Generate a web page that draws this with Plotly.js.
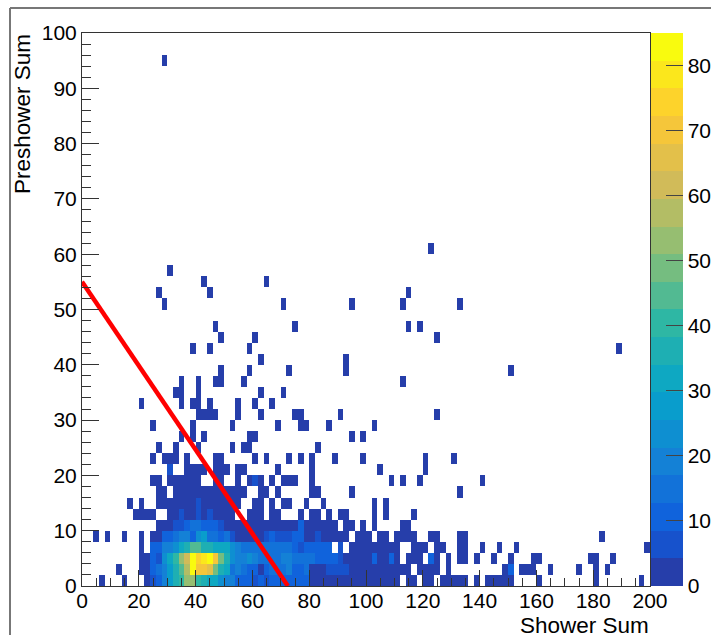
<!DOCTYPE html>
<html>
<head>
<meta charset="utf-8">
<script src="https://cdn.plot.ly/plotly-3.0.1.min.js"></script>
<style>html,body{margin:0;padding:0;background:#fff;overflow:hidden}#g{width:711px;height:635px}</style>
</head>
<body>
<div id="g"></div>
<script>
// Counts per 2x2 bin, dense bottom rows (index = x bin, 0 = empty)
var row0=[0,0,0,1,0,0,0,1,0,0,0,3,8,10,20,27,34,40,55,52,40,38,33,30,25,20,18,10,12,10,6,10,5,10,11,11,12,12,9,12,2,2,2,2,2,2,3,3,3,2,2,2,2,2,2,2,0,2,2,0,2,2,0,2,2,2,1,1,0,1,0,1,1,1,2,3,0,0,0,0,1,0,0,0,0,0,0,0,0,0,2,0,0,0,0,0,0,0,1];
var row1=[0,0,0,0,0,0,1,0,0,0,1,3,10,13,20,28,36,46,58,84,72,70,65,50,36,30,15,18,14,12,10,4,12,13,14,15,18,12,10,14,3,3,3,7,8,8,7,2,2,2,2,2,2,2,2,2,2,2,0,2,2,2,2,0,2,0,0,0,0,0,0,0,0,0,1,9,0,1,1,1,0,0,1,0,0,0,0,1,0,0,1,0,1];
var row2=[0,0,0,0,0,0,0,0,0,0,2,3,10,5,22,30,40,55,60,84,75,80,84,72,48,35,22,20,20,22,18,15,14,14,16,18,18,13,13,13,13,12,10,10,10,8,3,3,3,3,3,9,3,3,9,3,0,2,2,2,0,9,2,0,2,0,1,1,0,1,0,0,1,0,0,1,0,0,0,1,1,0,0,0,0,0,0,0,0,1,1,0,0,1];
var row3=[0,0,0,0,0,0,0,0,0,0,2,0,12,12,18,20,25,30,38,45,45,38,35,33,33,30,25,20,15,15,15,13,16,15,14,13,13,11,5,11,11,11,11,11,0,8,0,2,2,2,2,2,2,2,2,2,0,0,2,2,2,0,1,1,0,0,1,1,0,0,1,0,0,1,0,0,1,0,0,0,0,0,0,0,0,0,0,0,0,0,0,0,0,0,0,0,0,0,0,1];
var row4=[0,0,1,0,1,0,0,1,0,0,2,0,3,4,12,10,15,18,18,12,25,28,15,15,12,15,8,3,3,3,3,3,6,9,5,8,5,9,9,4,4,8,4,2,2,2,2,0,2,2,2,0,2,2,0,2,2,2,2,0,0,2,2,0,0,0,1,1,0,0,0,0,0,0,0,0,0,0,0,0,0,0,0,0,0,0,0,0,0,0,0,1];
var row5=[0,0,0,0,0,0,0,0,0,0,0,0,0,3,3,3,5,6,9,14,14,10,10,9,7,3,3,3,3,3,3,3,3,3,3,3,3,3,9,3,3,3,3,3,3,0,2,2,0,2,0,2,0,0,0,0,2,2];
var denseRows=[row0,row1,row2,row3,row4,row5];

// Occupied x bins of the sparse upper rows
var row6=[9,10,11,12,15,16,17,18,19,20,21,22,23,24,25,26,29,30,31,33,34,38,40,41,43,45,46,51,53,58];
var row7=[8,10,13,14,15,16,17,18,19,20,21,22,23,24,25,26,27,30,31,33,35,36,39,42,51,53];
var row8=[13,14,16,17,18,19,20,21,22,23,24,25,26,27,28,31,32,34,40,41,47,66];
var row9=[12,13,15,16,17,18,19,20,23,24,27,29,30,31,33,35,36,37,40,54,56,59,70];
var row10=[15,18,19,20,21,23,24,25,27,28,34,40,52,60];
var row11=[12,14,15,16,18,23,24,30,32,36,38,40,44,49,60,65];
var row12=[13,16,20,26,28,29,41];
var row13=[17,19,21,29,30,47,49];
var row14=[12,19,26,34,38,39,43,51];
var row15=[20,21,22,23,27,31,37,38,45,62];
var row16=[10,17,19,20,22,27,30,33];
var row17=[16,17,20,31,35];
var row18=[17,20,23,24,28,56];
var row19=[24,29,36,46,75];
var row20=[31,46];
var row21=[19,22,29,94];
var row22=[24,30,62];
var row23=[23,37,57,59];
var row24=[];
var row25=[14,35,47,56,66];
var row26=[13,22,57];
var row27=[21,32];
var row28=[15];
var row30=[61];
var row47=[14];
var sparseRows={6:row6,7:row7,8:row8,9:row9,10:row10,11:row11,12:row12,13:row13,14:row14,15:row15,16:row16,17:row17,18:row18,19:row19,20:row20,21:row21,22:row22,23:row23,24:row24,25:row25,26:row26,27:row27,28:row28,30:row30,47:row47};
var sparseCount=2;
// A few sparse-row bins that hold more than the lowest colour: [x bin, y bin, count]
var brighterCells=[[17,6,5],[20,6,5],[22,6,5],[20,7,5],[30,9,6],[15,10,7]];

var binWidth=2, binCount=100, zTop=85;
var bandColors=['#263eaa','#1752cc','#1063dc','#1272d9','#1481d6','#0e8fd1','#099dcc','#0ea8c2','#1eafb3','#2eb7a4','#52ba92','#75bd80','#96be71','#b3bd65','#d1bb59','#e3c04a','#f5c63a','#fdd32b','#fbe71c','#f9fb0e'];
var cutLineX=[0,72.5], cutLineY=[55,0];
var xTickStep=20, xMinorStep=5, yTickStep=10, yMinorStep=2, barTickStep=10;

var z=[];
for(var r=0;r<binCount;r++){var a=[];for(var c=0;c<binCount;c++)a.push(null);z.push(a);}
denseRows.forEach(function(row,r){row.forEach(function(v,c){if(v>0)z[r][c]=v;});});
Object.keys(sparseRows).forEach(function(r){sparseRows[r].forEach(function(c){z[+r][c]=sparseCount;});});
brighterCells.forEach(function(t){z[t[1]][t[0]]=t[2];});

var cs=[];
bandColors.forEach(function(col,k){cs.push([k/20,col]);cs.push([(k+1)/20,col]);});

var W=711,H=635,L=82,R=61,T=33,B=49;
var pw=W-L-R,ph=H-T-B;
var axisCol='#333';
var tf={family:'Liberation Sans, Arial, sans-serif',size:21,color:'#000'};
var titleFont={family:'Liberation Sans, Arial, sans-serif',size:22.5,color:'#000'};

var traces=[{
  type:'heatmap',z:z,x0:1,dx:binWidth,y0:1,dy:binWidth,zmin:0,zmax:zTop,zsmooth:false,
  colorscale:cs,hoverongaps:false,
  colorbar:{x:1.002,xanchor:'left',xpad:0,ypad:0,y:0,yanchor:'bottom',len:1,lenmode:'fraction',
    thickness:32,thicknessmode:'pixels',outlinewidth:0,borderwidth:0,
    ticks:'inside',ticklen:17,tickwidth:1,tickcolor:'#444',dtick:barTickStep,tick0:0,tickfont:tf}
},{
  type:'scatter',mode:'lines',x:cutLineX,y:cutLineY,line:{color:'#ff0000',width:4.5},showlegend:false,hoverinfo:'skip',cliponaxis:true
}];

var layout={
  width:W,height:H,margin:{l:L,r:R,t:T,b:B,pad:0,autoexpand:false},
  paper_bgcolor:'#fff',plot_bgcolor:'#fff',showlegend:false,font:tf,
  xaxis:{range:[0,200],dtick:xTickStep,tick0:0,ticks:'inside',ticklen:16,tickwidth:1,tickcolor:axisCol,ticklabelstandoff:-4,
    minor:{dtick:xMinorStep,tick0:0,ticks:'inside',ticklen:8,tickwidth:1,tickcolor:axisCol,showgrid:false},
    showgrid:false,zeroline:false,showline:true,mirror:true,linecolor:axisCol,linewidth:1,tickfont:tf,tickangle:0,automargin:false,layer:'above traces'},
  yaxis:{range:[0,100],dtick:yTickStep,tick0:0,ticks:'inside',ticklen:17,tickwidth:1,tickcolor:axisCol,
    minor:{dtick:yMinorStep,tick0:0,ticks:'inside',ticklen:9,tickwidth:1,tickcolor:axisCol,showgrid:false},
    showgrid:false,zeroline:false,showline:true,mirror:true,linecolor:axisCol,linewidth:1,tickfont:tf,automargin:false,layer:'above traces'},
  annotations:[
    {text:'Shower Sum',xref:'paper',yref:'paper',x:1,xanchor:'right',y:-(612-586)/ph,yanchor:'top',showarrow:false,font:titleFont,borderpad:0},
    {text:'Preshower Sum',xref:'paper',yref:'paper',x:(22-L)/pw,xanchor:'center',y:1,yanchor:'top',textangle:-90,showarrow:false,font:titleFont,borderpad:0}
  ],
  shapes:[
    {type:'line',xref:'paper',yref:'paper',x0:(10-L)/pw,x1:(10-L)/pw,y0:(H-B-8)/ph+0,y1:(H-B-H)/ph,line:{color:'#777',width:2}},
    {type:'line',xref:'paper',yref:'paper',x0:(10-L)/pw,x1:(W-L)/pw,y0:(H-B-8)/ph,y1:(H-B-8)/ph,line:{color:'#777',width:2}}
  ]
};
Plotly.newPlot('g',traces,layout,{displayModeBar:false,staticPlot:true});
</script>
</body>
</html>
